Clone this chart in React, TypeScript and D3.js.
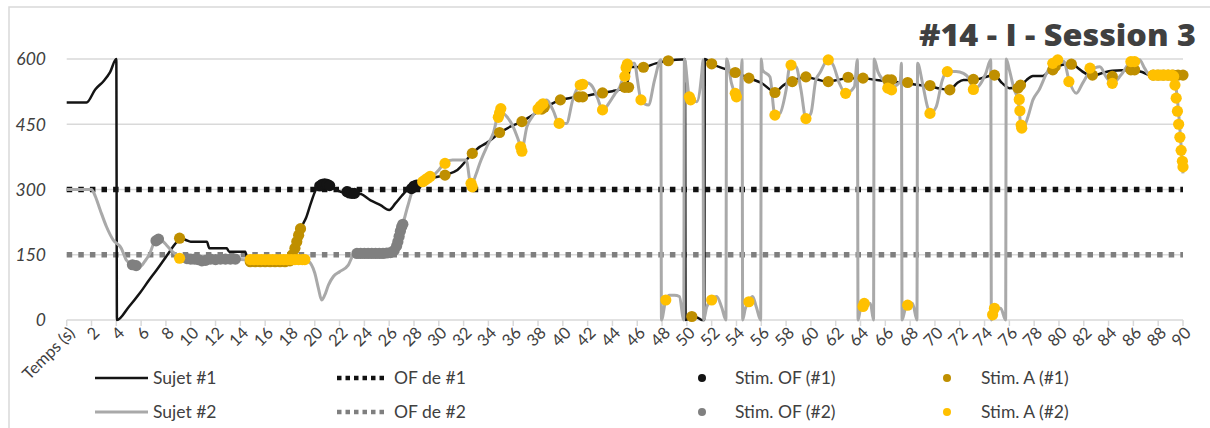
import React from "react";
import * as d3 from "d3";

type P = [number, number];

const title = "#14 - I - Session 3";
const xAxisName = "Temps (s)";
const yTicks = [0, 150, 300, 450, 600];
const xTicks = [2, 4, 6, 8, 10, 12, 14, 16, 18, 20, 22, 24, 26, 28, 30, 32, 34, 36, 38, 40, 42, 44, 46, 48, 50, 52, 54, 56, 58, 60, 62, 64, 66, 68, 70, 72, 74, 76, 78, 80, 82, 84, 86, 88, 90];
const ofSubject1 = 300;
const ofSubject2 = 150;

const subject1: P[] = [
  [0, 500], [1.6, 500], [2.3, 530], [3.0, 550], [3.5, 570], [4.0, 600], [4.05, 0], [5.0, 30], [5.9, 62], [6.6, 90], [7.25, 115], [8.0, 145], [8.9, 180], [9.2, 188], [9.6, 184], [10.0, 180], [11.3, 180], [11.5, 165], [12.9, 165], [13.1, 157], [14.4, 157], [14.6, 136], [15, 134], [18.0, 134], [18.3, 150], [18.6, 180], [18.9, 211], [19.3, 235], [19.7, 270], [20.1, 300], [20.5, 312], [21.0, 312], [21.4, 305], [21.8, 298], [22.5, 292], [23.1, 290], [23.6, 290], [24.5, 275], [25.3, 264], [26.0, 253], [26.5, 268], [27.0, 285], [27.5, 300], [28.0, 308], [28.6, 318], [29.4, 326], [30.5, 333], [31.5, 345], [32.7, 383], [33.3, 398], [33.8, 406], [34.9, 430], [35.8, 445], [36.7, 456], [37.5, 470], [38.4, 485], [39.1, 497], [39.8, 506], [40.5, 510], [41.4, 513], [42.3, 518], [43.2, 522], [44.0, 526], [45.1, 535], [45.3, 560], [45.4, 582], [46.4, 581], [47.5, 590], [48.5, 596], [49.6, 599], [49.85, 599], [49.9, 0], [50.4, 8], [50.9, 5], [51.2, 0], [51.4, 0], [51.45, 600], [52.0, 589], [53.0, 578], [53.9, 569], [55.0, 556], [56.0, 545], [57.1, 525], [57.8, 540], [58.5, 550], [59.6, 558], [60.5, 553], [61.3, 548], [62.2, 552], [63.0, 556], [64.2, 556], [65.2, 552], [66.2, 549], [67.8, 544], [68.7, 540], [69.6, 537], [70.4, 532], [71.2, 529], [71.8, 545], [72.3, 552], [73.2, 552], [74.0, 558], [74.8, 563], [75.4, 545], [76.0, 533], [76.9, 538], [77.4, 552], [77.9, 561], [78.7, 561], [79.2, 572], [79.6, 580], [80.3, 587], [81.0, 589], [81.5, 580], [81.9, 571], [82.7, 561], [83.5, 568], [84.3, 573], [85.1, 574], [86.0, 574], [86.7, 570], [87.3, 563], [90, 563],
];

const subject2: P[] = [
  [0, 300], [2.0, 300], [2.3, 285], [2.7, 253], [3.2, 215], [3.75, 184], [4.4, 165], [4.8, 138], [5.3, 127], [5.9, 123], [6.3, 135], [6.7, 153], [7.0, 175], [7.4, 186], [7.7, 182], [8.05, 172], [8.5, 158], [8.9, 149], [9.3, 143], [10.0, 140], [11.0, 140], [12.0, 139], [13.0, 140], [14.0, 139], [15.0, 138], [19.2, 138], [19.5, 135], [20.0, 108], [20.3, 72], [20.55, 46], [20.8, 57], [21.1, 80], [21.5, 100], [22.0, 111], [22.7, 126], [23.1, 149], [23.4, 153], [26.0, 153], [26.5, 165], [26.8, 190], [27.1, 220], [27.5, 262], [27.9, 299], [28.3, 313], [28.8, 322], [29.4, 328], [30.0, 345], [30.5, 362], [31.1, 368], [32.2, 368], [32.6, 310], [33.0, 335], [33.3, 360], [33.9, 400], [34.4, 430], [34.9, 480], [35.4, 470], [36.0, 444], [36.4, 415], [36.7, 393], [37.1, 444], [37.6, 470], [38.1, 490], [38.7, 506], [39.2, 483], [39.7, 452], [40.3, 452], [40.8, 506], [41.5, 544], [42.0, 545], [42.4, 536], [42.8, 510], [43.2, 483], [43.8, 502], [44.2, 520], [44.6, 536], [45.0, 575], [45.1, 590], [45.8, 590], [46.0, 555], [46.3, 506], [46.9, 494], [47.4, 552], [47.9, 598], [47.95, 0], [48.3, 46], [48.6, 57], [49.0, 57], [49.4, 54], [49.75, 0], [49.8, 600], [50.2, 513], [50.8, 502], [51.2, 567], [51.3, 598], [51.35, 0], [51.6, 30], [51.97, 46], [52.4, 54], [52.8, 30], [53.15, 0], [53.2, 600], [53.6, 544], [53.9, 521], [54.3, 513], [54.45, 598], [54.5, 0], [54.7, 25], [55.0, 42], [55.3, 54], [55.6, 30], [55.95, 0], [56.0, 600], [56.1, 575], [56.7, 559], [57.1, 471], [57.5, 475], [58.0, 529], [58.3, 582], [58.8, 582], [59.2, 529], [59.6, 463], [60.0, 475], [60.4, 552], [60.7, 567], [61.4, 598], [61.8, 586], [62.3, 544], [62.8, 521], [63.5, 536], [63.75, 598], [63.8, 0], [64.0, 25], [64.3, 34], [64.8, 38], [65.05, 0], [65.1, 600], [65.4, 571], [65.9, 548], [66.2, 533], [66.6, 535], [67.2, 548], [67.3, 590], [67.35, 0], [67.6, 25], [67.8, 34], [68.2, 38], [68.55, 0], [68.6, 590], [69.0, 544], [69.4, 490], [69.6, 475], [70.1, 490], [70.6, 552], [71.0, 571], [71.7, 571], [72.3, 567], [72.8, 552], [73.1, 530], [73.6, 540], [74.1, 567], [74.5, 598], [74.55, 0], [74.8, 22], [75.3, 27], [75.7, 0], [75.75, 600], [76.0, 575], [76.4, 529], [76.7, 505], [77.0, 437], [77.5, 467], [77.9, 506], [78.4, 529], [79.0, 567], [79.5, 590], [80.4, 594], [80.8, 552], [81.4, 521], [81.9, 544], [82.5, 571], [83.3, 582], [83.8, 559], [84.3, 544], [85.0, 563], [85.8, 594], [86.5, 598], [86.9, 579], [87.3, 563], [89.2, 563], [89.5, 520], [89.8, 420], [90, 337],
];

const stimOF1: P[] = [
  [20.4, 308], [20.6, 312], [20.8, 313], [21.0, 312], [21.2, 309], [22.6, 295], [22.8, 292], [23.0, 291], [23.2, 291], [27.8, 302], [28.0, 308], [28.2, 310],
];

const stimOF2: P[] = [
  [5.3, 127], [5.6, 125], [7.2, 182], [7.4, 186], [9.7, 141], [10.0, 140], [10.3, 140], [10.6, 139], [10.9, 136], [11.2, 137], [11.6, 140], [12.0, 139], [12.4, 140], [12.8, 140], [13.2, 140], [13.6, 140], [23.4, 153], [23.7, 153], [24.0, 153], [24.3, 153], [24.6, 153], [24.9, 153], [25.2, 153], [25.5, 153], [25.8, 154], [26.1, 155], [26.4, 160], [26.6, 170], [26.7, 180], [26.8, 192], [26.9, 204], [27.0, 214], [27.1, 220],
];

const stimA1: P[] = [
  [9.1, 188], [14.8, 134], [15.2, 134], [15.6, 134], [16.0, 134], [16.4, 134], [16.8, 134], [17.2, 134], [17.6, 134], [18.0, 136], [18.2, 150], [18.4, 165], [18.55, 180], [18.7, 195], [18.85, 210], [30.5, 333], [32.7, 383], [34.9, 431], [36.7, 456], [38.3, 485], [38.5, 489], [39.8, 506], [41.3, 513], [41.6, 513], [43.2, 522], [45.0, 535], [45.3, 535], [46.5, 581], [48.5, 596], [50.4, 8], [52.0, 589], [53.9, 569], [55.0, 556], [57.1, 523], [58.5, 548], [59.6, 559], [61.4, 548], [63.0, 558], [64.2, 556], [66.2, 552], [66.5, 552], [67.8, 546], [69.6, 539], [71.2, 529], [73.1, 553], [74.8, 563], [76.7, 533], [76.9, 540], [79.5, 575], [79.7, 583], [81.0, 588], [82.7, 563], [84.3, 560], [85.8, 575], [86.1, 575], [87.6, 563], [88.0, 563], [88.4, 563], [88.8, 563], [89.2, 563], [89.6, 563], [90.0, 563],
];

const stimA2: P[] = [
  [9.1, 142], [14.8, 139], [15.1, 139], [15.4, 139], [15.7, 139], [16.0, 139], [16.3, 139], [16.6, 139], [16.9, 139], [17.2, 139], [17.5, 139], [17.8, 139], [18.1, 139], [18.4, 139], [18.7, 139], [19.0, 139], [19.2, 139], [28.7, 318], [28.9, 322], [29.1, 326], [29.3, 330], [30.5, 360], [32.6, 314], [32.7, 306], [34.8, 466], [34.9, 476], [35.0, 486], [36.6, 398], [36.7, 388], [38.0, 485], [38.2, 492], [38.4, 497], [39.7, 452], [41.4, 540], [41.6, 542], [43.2, 483], [45.0, 560], [45.1, 580], [45.2, 588], [46.3, 506], [48.3, 46], [50.2, 513], [50.3, 506], [52.0, 46], [53.9, 521], [54.0, 513], [55.0, 42], [57.1, 471], [58.4, 586], [59.6, 463], [61.4, 598], [62.8, 521], [64.2, 31], [64.3, 38], [66.2, 533], [66.5, 529], [67.8, 34], [69.6, 475], [71.0, 571], [73.1, 530], [74.65, 12], [74.8, 27], [76.8, 507], [76.85, 481], [76.95, 448], [77.0, 441], [79.5, 590], [79.9, 598], [80.8, 548], [82.5, 579], [84.3, 544], [85.8, 594], [86.1, 594], [87.6, 563], [87.9, 563], [88.2, 563], [88.5, 563], [88.8, 563], [89.1, 563], [89.25, 560], [89.35, 540], [89.45, 510], [89.55, 480], [89.65, 450], [89.75, 420], [89.85, 390], [89.95, 365], [90.0, 352],
];

const legendRow1 = ["Sujet #1", "OF de #1", "Stim. OF (#1)", "Stim. A (#1)"];
const legendRow2 = ["Sujet #2", "OF de #2", "Stim. OF (#2)", "Stim. A (#2)"];

const C = {
  s1: "#141414",
  s2: "#a9a9a9",
  of1: "#111111",
  of2: "#7f7f7f",
  stimOF1: "#141414",
  stimOF2: "#808080",
  stimA1: "#bf8f00",
  stimA2: "#ffc000",
  grid: "#d9d9d9",
  text: "#404040",
};

const FONT = "Lato, 'Noto Sans', sans-serif";

export default function App() {
  const W = 1210, H = 428;
  const x = d3.scaleLinear().domain([0, 90]).range([66.7, 1183]);
  const y = d3.scaleLinear().domain([0, 600]).range([320, 59]);
  const line = d3.line<P>().x((d) => x(d[0])).y((d) => y(d[1])).curve(d3.curveMonotoneX);
  const dotR = 5.6;

  const dots = (data: P[], color: string, key: string) =>
    data.map((d, i) => <circle key={key + i} cx={x(d[0])} cy={y(d[1])} r={dotR} fill={color} />);

  const dotted = { strokeWidth: 5.5, strokeDasharray: "5.5 6.1" };

  const legendCols = [95, 337, 702, 947];
  const legendRowsY = [378, 412];
  const legendTextX = [153, 394, 735, 981];

  const legendSwatch = (col: number, row: number) => {
    const lx = legendCols[col];
    const ly = legendRowsY[row];
    if (col === 0)
      return <line x1={lx} x2={lx + 53} y1={ly} y2={ly} stroke={row === 0 ? C.s1 : C.s2} strokeWidth={row === 0 ? 2.5 : 3} />;
    if (col === 1)
      return <line x1={lx} x2={lx + 51} y1={ly} y2={ly} stroke={row === 0 ? C.of1 : C.of2} strokeWidth={4.5} strokeDasharray="4.5 4" />;
    if (col === 2)
      return <circle cx={lx} cy={ly} r={4} fill={row === 0 ? C.stimOF1 : C.stimOF2} />;
    return <circle cx={lx} cy={ly} r={4} fill={row === 0 ? C.stimA1 : C.stimA2} />;
  };

  return (
    <svg width={W} height={H} style={{ position: "absolute", left: 0, top: 0, background: "#fff" }} fontFamily={FONT}>
      <rect x={9} y={7} width={1210} height={440} fill="#fff" stroke={C.grid} strokeWidth={1.5} />
      {yTicks.map((t) => (
        <line key={"g" + t} x1={x(0)} x2={x(90)} y1={y(t)} y2={y(t)} stroke={C.grid} strokeWidth={1.5} />
      ))}
      {[0, ...xTicks].map((t) => (
        <line key={"tk" + t} x1={x(t)} x2={x(t)} y1={y(0)} y2={y(0) + 6} stroke={C.grid} strokeWidth={1.5} />
      ))}
      {yTicks.map((t) => (
        <text key={"yl" + t} x={46} y={y(t)} dy="0.36em" textAnchor="end" fontSize={17.5} fontStyle="italic" fill={C.text}>
          {t}
        </text>
      ))}
      {xTicks.map((t) => (
        <text key={"xl" + t} transform={`translate(${x(t) + 5},${y(0) + 10}) rotate(-45)`} textAnchor="end" dy="0.35em" fontSize={16.5} fill={C.text}>
          {t}
        </text>
      ))}
      <text transform={`translate(${x(0) + 5},${y(0) + 10}) rotate(-45)`} textAnchor="end" dy="0.35em" fontSize={16.5} fill={C.text}>
        {xAxisName}
      </text>
      <line x1={x(0)} x2={x(90)} y1={y(ofSubject1)} y2={y(ofSubject1)} stroke={C.of1} {...dotted} />
      <line x1={x(0)} x2={x(90)} y1={y(ofSubject2)} y2={y(ofSubject2)} stroke={C.of2} {...dotted} />
      <path d={line(subject1) || ""} fill="none" stroke={C.s1} strokeWidth={2.5} strokeLinejoin="round" />
      <path d={line(subject2) || ""} fill="none" stroke={C.s2} strokeWidth={3} strokeLinejoin="round" />
      {dots(stimOF1, C.stimOF1, "o1")}
      {dots(stimOF2, C.stimOF2, "o2")}
      {dots(stimA1, C.stimA1, "a1")}
      {dots(stimA2, C.stimA2, "a2")}
      <text x={1196} y={46} textAnchor="end" fontSize={30} fontWeight={800} fill={C.text} fontFamily="'Open Sans', sans-serif" textLength={277} lengthAdjust="spacingAndGlyphs">
        {title}
      </text>
      {[legendRow1, legendRow2].map((row, ri) =>
        row.map((label, ci) => (
          <g key={"lg" + ri + ci}>
            {legendSwatch(ci, ri)}
            <text x={legendTextX[ci]} y={legendRowsY[ri]} dy="0.35em" fontSize={17.5} fill={C.text}>
              {label}
            </text>
          </g>
        ))
      )}
    </svg>
  );
}
